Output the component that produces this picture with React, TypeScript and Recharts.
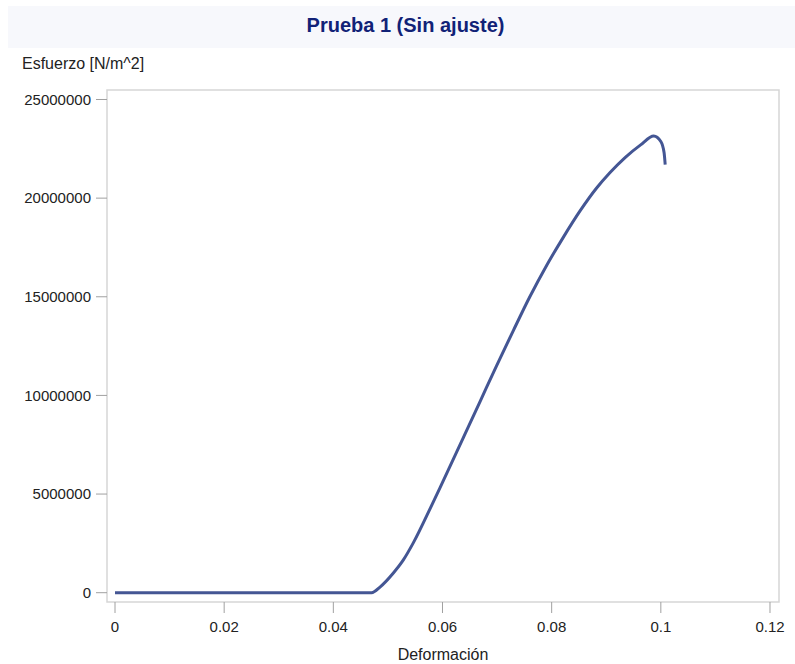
import { LineChart, Line, XAxis, YAxis, ReferenceArea } from "recharts";

// Deformación (strain) vs Esfuerzo (stress, N/m^2)
const deformacion = [
  0, 0.047, 0.0486, 0.051, 0.0528, 0.0546, 0.0578, 0.0596, 0.0638, 0.0669, 0.0699, 0.073,
  0.076, 0.0791, 0.0821, 0.0852, 0.0882, 0.0907, 0.0935, 0.0963, 0.0987, 0.1, 0.1006, 0.1008,
];
const esfuerzo = [
  0, 0, 300000, 1000000, 1650000, 2500000, 4300000, 5350000, 7850000, 9700000, 11500000, 13300000,
  15000000, 16600000, 18000000, 19350000, 20500000, 21300000, 22070000, 22700000, 23150000, 22870000, 22300000, 21700000,
];
const xTicks = [0, 0.02, 0.04, 0.06, 0.08, 0.1, 0.12];
const yTicks = [0, 5000000, 10000000, 15000000, 20000000, 25000000];

// axis ranges padded a little past the outer ticks, like the SAS frame
const X_MIN = -0.001466;
const X_MAX = 0.12165;
const Y_MIN = -471400;
const Y_MAX = 25481500;

const data = deformacion.map((x, i) => ({ x, y: esfuerzo[i] }));

const FONT = "Arial, 'Liberation Sans', sans-serif";
const tickStyle = { fontSize: 15, fill: "#222", fontFamily: FONT };

export default function App() {
  return (
    <div style={{ position: "absolute", left: 0, top: 0, width: 795, height: 664, background: "#fff", fontFamily: FONT }}>
      <div
        style={{
          position: "absolute",
          left: 8,
          top: 6,
          width: 787,
          height: 42,
          background: "#f7f8fc",
        }}
      />
      <div
        style={{
          position: "absolute",
          left: 8,
          width: 787,
          top: 15,
          textAlign: "center",
          fontSize: 20,
          lineHeight: "20px",
          fontWeight: "bold",
          color: "#112277",
          paddingLeft: 8,
          boxSizing: "border-box",
        }}
      >
        Prueba 1 (Sin ajuste)
      </div>
      <div
        style={{
          position: "absolute",
          left: 22,
          top: 56,
          fontSize: 16,
          lineHeight: "16px",
          color: "#222",
          whiteSpace: "nowrap",
        }}
      >
        Esfuerzo [N/m^2]
      </div>
      <div style={{ position: "absolute", left: 0, top: 0 }}>
        <LineChart width={795} height={664} data={data} margin={{ top: 90, right: 16, bottom: 0, left: 0 }}>
          <ReferenceArea
            x1={X_MIN}
            x2={X_MAX}
            y1={Y_MIN}
            y2={Y_MAX}
            fill="none"
            stroke="#d6d6d6"
            strokeWidth={1.5}
            ifOverflow="visible"
          />
          <XAxis
            dataKey="x"
            type="number"
            domain={[X_MIN, X_MAX]}
            allowDataOverflow
            ticks={xTicks}
            interval={0}
            axisLine={false}
            tickLine={{ stroke: "#a0a0a0" }}
            tickSize={11}
            tickMargin={8}
            tick={tickStyle}
            height={62}
            label={{
              value: "Deformación",
              position: "insideBottom",
              offset: 4,
              style: { fontSize: 16, fill: "#222", fontFamily: FONT },
            }}
          />
          <YAxis
            dataKey="y"
            type="number"
            domain={[Y_MIN, Y_MAX]}
            allowDataOverflow
            ticks={yTicks}
            interval={0}
            axisLine={false}
            tickLine={{ stroke: "#a0a0a0" }}
            tickSize={11}
            tickMargin={5}
            tick={tickStyle}
            tickFormatter={(v: number) => String(v)}
            width={107}
          />
          <Line
            dataKey="y"
            type="monotone"
            stroke="#445694"
            strokeWidth={3}
            dot={false}
            activeDot={false}
            isAnimationActive={false}
          />
        </LineChart>
      </div>
    </div>
  );
}
